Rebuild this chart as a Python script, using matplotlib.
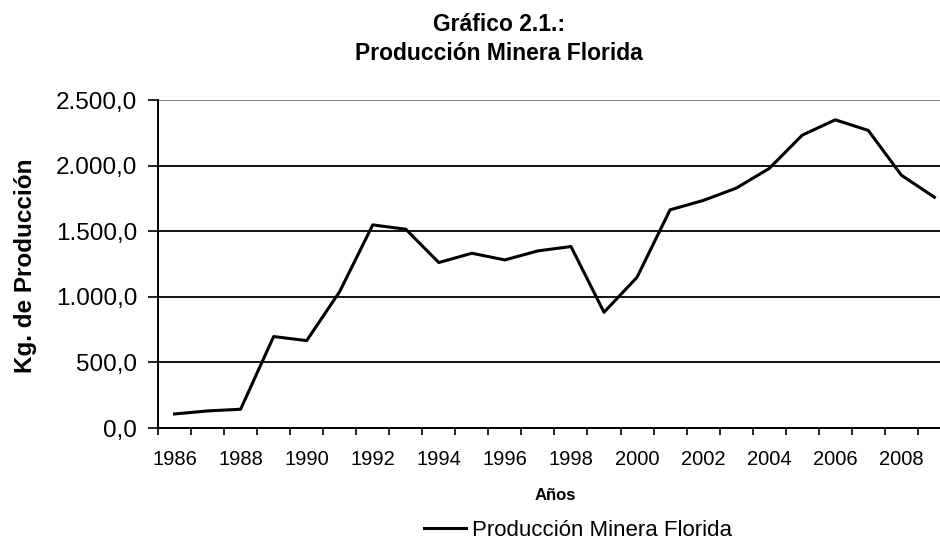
import matplotlib
matplotlib.use("Agg")
import matplotlib.pyplot as plt
from matplotlib.ticker import FuncFormatter, FixedLocator

plt.rcParams['font.family'] = ['Liberation Sans', 'DejaVu Sans']

years = list(range(1986, 2010))
produccion = [107, 130, 143, 697, 666, 1040, 1548, 1515, 1261, 1332, 1281, 1350,
              1383, 882, 1149, 1663, 1734, 1828, 1978, 2232, 2349, 2268, 1927, 1759]
year_labels = [str(y) if (y - 1986) % 2 == 0 else "" for y in years]
y_ticks = [0, 500, 1000, 1500, 2000, 2500]

def fmt_es(v, pos):
    s = "{:,.1f}".format(v)
    return s.replace(",", "X").replace(".", ",").replace("X", ".")

W, H = 940, 541
fig = plt.figure(figsize=(W / 100, H / 100), dpi=100)
ax = fig.add_axes([158 / W, 1 - 428 / H, 1 - 158 / W, 328 / H])

x = list(range(len(years)))
line, = ax.plot(x, produccion, color="black", lw=2.2, label="Producción Minera Florida")

ax.set_ylim(0, 2500)
ax.set_xlim(-0.5, 23.17)
ax.set_yticks(y_ticks)
ax.yaxis.set_major_formatter(FuncFormatter(fmt_es))
ax.yaxis.grid(True, color="black", lw=1.3)
ax.yaxis.get_gridlines()[-1].set_color("#777777")
ax.set_axisbelow(True)

ax.set_xticks(x)
ax.set_xticklabels(year_labels, fontsize=14.5)
ax.tick_params(axis="x", which="major", length=0, pad=16)
ax.xaxis.set_minor_locator(FixedLocator([i - 0.5 for i in range(len(years) + 1)]))
ax.tick_params(axis="x", which="minor", length=5, direction="out", width=1.2)
ax.tick_params(axis="y", length=7, width=1.2, labelsize=17.5, pad=8)

for s in ["top", "right"]:
    ax.spines[s].set_visible(False)
ax.spines["left"].set_linewidth(1.4)
ax.spines["bottom"].set_linewidth(1.4)

fig.text(555 / W, 1 - 496 / H, "Años", ha="center", va="center",
         fontsize=12, fontweight="bold")
fig.text(26 / W, 1 - 266 / H, "Kg. de Producción", ha="center", va="center",
         rotation=90, fontsize=17.5, fontweight="bold")

fig.text(499 / W, 1 - 31 / H, "Gráfico 2.1.:", ha="center", va="baseline",
         fontsize=16.5, fontweight="bold")
fig.text(499 / W, 1 - 60 / H, "Producción Minera Florida", ha="center", va="baseline",
         fontsize=16.5, fontweight="bold")

fig.legend(handles=[line], loc="center", bbox_to_anchor=(578 / W, 1 - 530 / H), frameon=False,
           fontsize=16, handlelength=1.9, handletextpad=0.3, borderpad=0)

fig.savefig("out.png", dpi=100)
